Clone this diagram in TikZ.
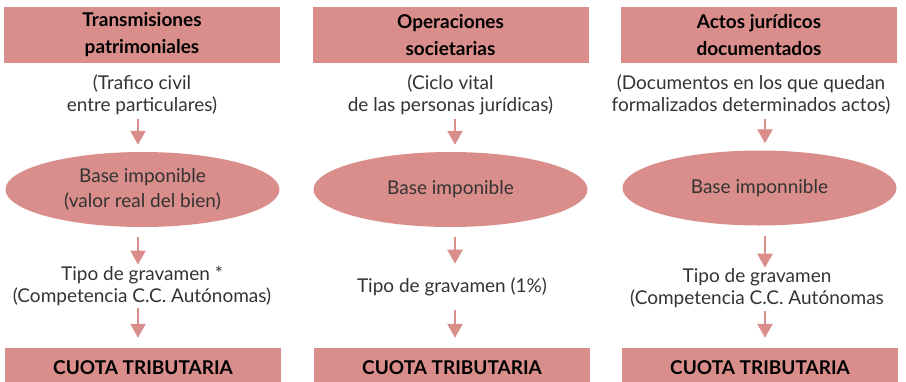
\documentclass[tikz,border=0pt]{standalone}
\usepackage{fontspec}
\setmainfont{Lato}
\usetikzlibrary{shapes.geometric,arrows.meta}
\definecolor{rosa}{HTML}{D98E8B}
\definecolor{txt}{HTML}{333333}
\begin{document}
\begin{tikzpicture}[x=1pt,y=-1pt,
 head/.style={fill=rosa, minimum width=276pt, minimum height=56pt, inner sep=0pt, align=center, font=\fontsize{19}{27}\selectfont\bfseries, text=black},
 elli/.style={ellipse, fill=rosa, minimum width=274pt, minimum height=75pt, inner sep=0pt, align=center, font=\fontsize{19}{25}\selectfont, text=txt},
 lbl/.style={align=center, font=\fontsize{19}{22}\selectfont, text=txt, inner sep=0pt},
 cuota/.style={fill=rosa, minimum width=276pt, minimum height=40pt, inner sep=0pt, font=\fontsize{19}{20}\selectfont\bfseries, text=black},
 arr/.style={draw=rosa, line width=2.5pt, -{Triangle[width=15pt,length=14pt]}}]
\useasboundingbox (0,0) rectangle (906,381);
% column 1
\node[head] (h1) at (142,35) {Transmisiones\\patrimoniales};
\node[lbl] (t1) at (142,95) {(Trafico civil\\entre particulares)};
\node[elli] (e1) at (142.5,189.5) {Base imponible\\(valor real del bien)};
\node[lbl] (g1) at (142,285.5) {Tipo de gravamen *\\(Competencia C.C. Autónomas)};
\node[cuota] (c1) at (143,368) {CUOTA TRIBUTARIA};
\coordinate (x1) at (138,0);
% column 2
\node[head] (h2) at (450.5,35) {Operaciones\\societarias};
\node[lbl] (t2) at (450.5,95) {(Ciclo vital\\de las personas jurídicas)};
\node[elli] (e2) at (450.5,189.5) {Base imponible};
\node[lbl] (g2) at (452,287) {Tipo de gravamen (1\%)};
\node[cuota] (c2) at (452,368) {CUOTA TRIBUTARIA};
\coordinate (x2) at (455,0);
% column 3
\node[head] (h3) at (759,35) {Actos jurídicos\\documentados};
\node[lbl] (t3) at (751,95) {(Documentos en los que quedan\\formalizados determinados actos)};
\node[elli] (e3) at (759.5,188) {Base imponnible};
\node[lbl] (g3) at (757,288.5) {Tipo de gravamen\\(Competencia C.C. Autónomas};
\node[cuota] (c3) at (760,368) {CUOTA TRIBUTARIA};
\coordinate (x3) at (765,0);
% arrows
\draw[arr, shorten <=4pt, shorten >=7pt] (t1.south -| x1) -- (e1.north -| x1);
\draw[arr, shorten <=10pt, shorten >=1pt] (e1.south -| x1) -- (g1.north -| x1);
\draw[arr, shorten <=3pt, shorten >=10pt] (g1.south -| x1) -- (c1.north -| x1);
\draw[arr, shorten <=4pt, shorten >=7pt] (t2.south -| x2) -- (e2.north -| x2);
\draw[arr, shorten <=10pt, shorten >=14pt] (e2.south -| x2) -- (g2.north -| x2);
\draw[arr, shorten <=14pt, shorten >=10pt] (g2.south -| x2) -- (c2.north -| x2);
\draw[arr, shorten <=4pt, shorten >=7pt] (t3.south -| x3) -- (e3.north -| x3);
\draw[arr, shorten <=10pt, shorten >=1pt] (e3.south -| x3) -- (g3.north -| x3);
\draw[arr, shorten <=3pt, shorten >=10pt] (g3.south -| x3) -- (c3.north -| x3);
\end{tikzpicture}
\end{document}
